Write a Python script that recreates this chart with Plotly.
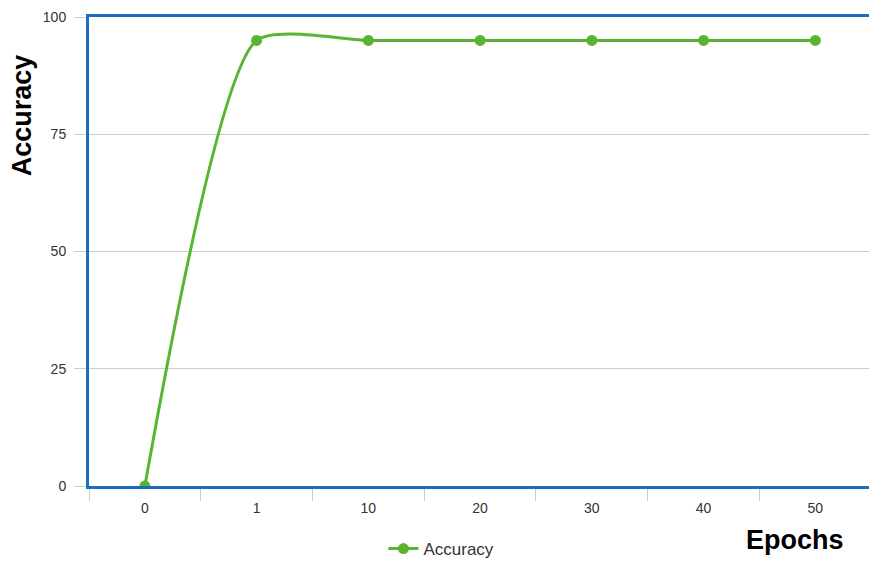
import plotly.graph_objects as go

epochs = ["0", "1", "10", "20", "30", "40", "50"]
accuracy = [0, 95, 95, 95, 95, 95, 95]
y_ticks = [0, 25, 50, 75, 100]

GREEN = "#58b431"
BLUE = "#1a6ec2"

fig = go.Figure()
fig.add_trace(go.Scatter(
    x=epochs, y=accuracy, name="Accuracy", mode="lines+markers",
    line=dict(color=GREEN, width=3, shape="spline", smoothing=0.6),
    marker=dict(color=GREEN, size=11),
))

fig.update_layout(
    width=869, height=567,
    margin=dict(l=89, r=0, t=17, b=81),
    paper_bgcolor="white", plot_bgcolor="white",
    font=dict(family="Liberation Sans, Arial, sans-serif", size=14, color="#333333"),
    showlegend=True,
    legend=dict(orientation="h", xref="container", x=0.508, xanchor="center",
                yref="container", y=-0.02, yanchor="bottom",
                font=dict(size=17, color="#333333")),
    xaxis=dict(type="category", range=[-0.5, 6.48], showgrid=False, automargin=False,
               showline=True, linecolor=BLUE, linewidth=3, mirror=True,
               ticks="outside", tickson="boundaries", ticklen=12, tickcolor="#cccccc",
               tickwidth=1, zeroline=False, ticklabelstandoff=7),
    yaxis=dict(range=[0, 100], tickvals=y_ticks, showgrid=True, gridcolor="#cccccc",
               gridwidth=1, showline=True, linecolor=BLUE, linewidth=3, mirror=False,
               automargin=False, ticklabelstandoff=5,
               ticks="outside", ticklen=12, tickcolor="#cccccc", zeroline=False),
    annotations=[
        dict(text="<b>Accuracy</b>", xref="paper", yref="paper", x=-0.085, y=0.79,
             xanchor="center", yanchor="middle", textangle=-90, showarrow=False,
             font=dict(family="Liberation Sans, Arial, sans-serif", size=27, color="#000000")),
        dict(text="<b>Epochs</b>", xref="paper", yref="paper", x=0.905, y=-0.115,
             xanchor="center", yanchor="middle", showarrow=False,
             font=dict(family="Liberation Sans, Arial, sans-serif", size=27, color="#000000")),
    ],
)

fig.write_html("out.html", config={"displayModeBar": False},
               post_script="document.body.style.margin='0';document.body.style.overflow='hidden';")
